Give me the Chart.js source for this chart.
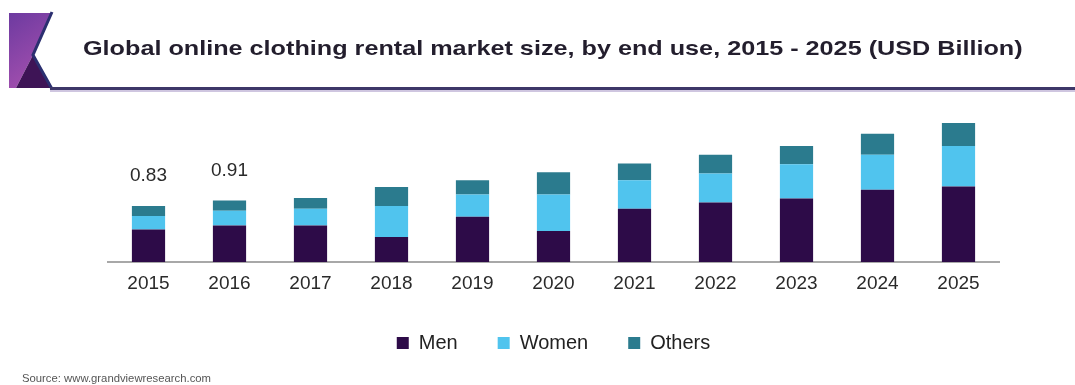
<!DOCTYPE html>
<html>
<head>
<meta charset="utf-8">
<script src="https://cdn.jsdelivr.net/npm/chart.js@4.4.0/dist/chart.umd.min.js"></script>
<style>
  html, body { margin: 0; padding: 0; background: #fff; }
  #wrap { position: relative; width: 1075px; height: 385px; overflow: hidden; font-family: "Liberation Sans", Arial, sans-serif; }
  #logo { position: absolute; left: 0; top: 0; }
  #title { position: absolute; left: 83px; top: 36px; font-size: 21px; font-weight: bold; color: #231e2d; white-space: nowrap; transform: scaleX(1.2); transform-origin: 0 0; }
  #rule { position: absolute; left: 50px; top: 87px; width: 1025px; height: 3px; background: #3d3768; border-bottom: 2px solid #cfc6e0; }
  #chart { position: absolute; left: 0; top: 0; }
  #source { position: absolute; left: 22px; top: 372px; font-size: 11.3px; color: #555; }
</style>
</head>
<body>
<div id="wrap">
  <canvas id="chart" width="1075" height="385"></canvas>
  <svg id="logo" width="60" height="95">
    <defs>
      <linearGradient id="lg" x1="0" y1="0" x2="0.4" y2="1">
        <stop offset="0" stop-color="#6d3aa0"/>
        <stop offset="1" stop-color="#a24fae"/>
      </linearGradient>
    </defs>
    <polygon points="9,13 51,13 33,55 16,88 9,88" fill="url(#lg)"/>
    <polygon points="33,55 51,88 16,88" fill="#3e1456"/>
    <polyline points="52,12 33,55 52,89" fill="none" stroke="#2b2f70" stroke-width="3"/>
  </svg>
  <div id="rule"></div>
  <div id="title">Global online clothing rental market size, by end use, 2015 - 2025 (USD Billion)</div>
  <div id="source">Source: www.grandviewresearch.com</div>
</div>
<script>
  var years = ['2015', '2016', '2017', '2018', '2019', '2020', '2021', '2022', '2023', '2024', '2025'];
  var men = [0.48, 0.54, 0.54, 0.37, 0.67, 0.46, 0.79, 0.88, 0.94, 1.07, 1.12];
  var women = [0.20, 0.22, 0.25, 0.46, 0.33, 0.54, 0.42, 0.43, 0.51, 0.52, 0.60];
  var others = [0.15, 0.15, 0.16, 0.28, 0.21, 0.33, 0.25, 0.28, 0.27, 0.31, 0.34];
  // only these years carry a total above the bar
  var labelledYears = ['2015', '2016'];

  var totalLabels = {
    id: 'totalLabels',
    afterDatasetsDraw: function(chart) {
      var ctx = chart.ctx;
      var topMeta = chart.getDatasetMeta(2);
      ctx.save();
      ctx.font = '19px "Liberation Sans", Arial, sans-serif';
      ctx.fillStyle = '#2a2a2a';
      ctx.textAlign = 'center';
      ctx.textBaseline = 'middle';
      years.forEach(function(y, i) {
        if (labelledYears.indexOf(y) < 0) return;
        var total = men[i] + women[i] + others[i];
        var bar = topMeta.data[i];
        ctx.fillText(total.toFixed(2), bar.x, bar.y - 30);
      });
      ctx.restore();
    }
  };

  new Chart(document.getElementById('chart').getContext('2d'), {
    type: 'bar',
    data: {
      labels: years,
      datasets: [
        { label: 'Men', data: men, backgroundColor: '#2d0b48' },
        { label: 'Women', data: women, backgroundColor: '#50c4ee' },
        { label: 'Others', data: others, backgroundColor: '#2b7b8e' }
      ]
    },
    options: {
      responsive: false,
      animation: false,
      categoryPercentage: 1,
      barPercentage: 0.41,
      layout: { padding: { left: 108, right: 76, top: 100, bottom: 22 } },
      scales: {
        x: {
          stacked: true,
          grid: { display: false, drawTicks: false },
          border: { display: true, color: '#a8a8a8', width: 2 },
          ticks: { color: '#2a2a2a', padding: 12, font: { size: 19, lineHeight: 1, family: '"Liberation Sans", Arial, sans-serif' } },
          // keep the axis box tight so the legend sits close under the years
          afterFit: function(scale) { scale.height = 31; }
        },
        y: {
          stacked: true,
          display: false,
          min: 0,
          max: 2.4
        }
      },
      plugins: {
        tooltip: { enabled: false },
        legend: {
          position: 'bottom',
          labels: {
            boxWidth: 12,
            boxHeight: 12,
            padding: 40,
            color: '#222',
            font: { size: 20, family: '"Liberation Sans", Arial, sans-serif' }
          }
        }
      }
    },
    plugins: [totalLabels]
  });
</script>
</body>
</html>
